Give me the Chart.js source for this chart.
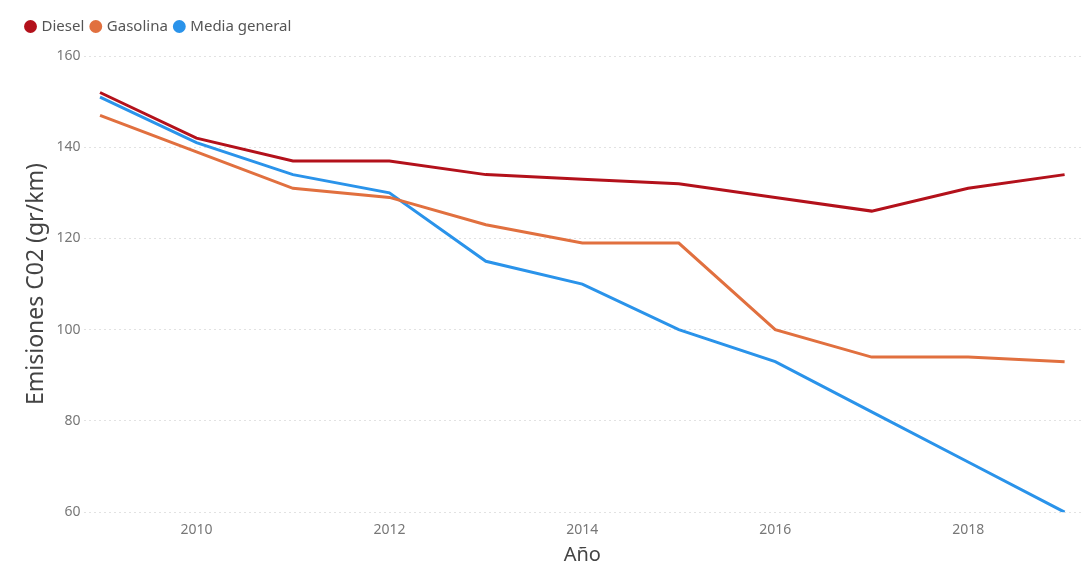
<!DOCTYPE html>
<html>
<head>
<meta charset="utf-8">
<script src="https://cdn.jsdelivr.net/npm/chart.js@4"></script>
<style>
  html, body { margin: 0; padding: 0; background: #fff; }
  #wrap { width: 1087px; height: 576px; }
</style>
</head>
<body>
<div id="wrap"><canvas id="co2Chart"></canvas></div>
<script>
// datos
const years    = [2009, 2010, 2011, 2012, 2013, 2014, 2015, 2016, 2017, 2018, 2019];
const diesel   = [152, 142, 137, 137, 134, 133, 132, 129, 126, 131, 134];
const gasolina = [147, 139, 131, 129, 123, 119, 119, 100, 94, 94, 93];
const media    = [151, 141, 134, 130, 115, 110, 100, 93, 82, 71, 60];
const xTicks   = [2010, 2012, 2014, 2016, 2018];
const yTicks   = [60, 80, 100, 120, 140, 160];

const pts = arr => arr.map((v, i) => ({ x: years[i], y: v }));

function line(label, data, color) {
  return {
    label, data: pts(data),
    borderColor: color, backgroundColor: color,
    borderWidth: 3, pointRadius: 0, tension: 0,
  };
}

// un poco mas de aire bajo la leyenda
const legendGap = {
  id: 'legendGap',
  beforeInit(chart) {
    const fit = chart.legend.fit;
    chart.legend.fit = function () { fit.bind(chart.legend)(); this.height += 12; };
  }
};

new Chart(document.getElementById('co2Chart'), {
  type: 'line',
  data: {
    datasets: [
      line('Diesel', diesel, '#b3111b'),
      line('Gasolina', gasolina, '#e1703f'),
      line('Media general', media, '#2a93ea'),
    ]
  },
  plugins: [legendGap],
  options: {
    responsive: true, maintainAspectRatio: false, animation: false,
    layout: { padding: { left: 19, right: 6, top: 11, bottom: 9 } },
    plugins: {
      legend: {
        align: 'start',
        labels: {
          usePointStyle: true, pointStyle: 'circle', boxWidth: 7, boxHeight: 7,
          padding: 8, color: '#555', font: { family: 'Noto Sans', size: 15 }
        }
      },
      tooltip: { enabled: false }
    },
    scales: {
      x: {
        type: 'linear', min: 2008.83, max: 2019.17,
        afterBuildTicks: s => { s.ticks = xTicks.map(v => ({ value: v })); },
        ticks: { color: '#777', padding: 1, font: { family: 'Noto Sans', size: 14 }, callback: v => String(v) },
        grid: { display: false },
        border: { display: false },
        title: { display: true, text: 'Año', color: '#444', font: { family: 'Noto Sans', size: 20 }, padding: { top: 4, bottom: 0 } }
      },
      y: {
        min: 60, max: 160,
        afterBuildTicks: s => { s.ticks = yTicks.map(v => ({ value: v })); },
        ticks: { color: '#777', font: { family: 'Noto Sans', size: 14 }, padding: 3 },
        grid: { color: '#e2e2e2', lineWidth: 1, drawTicks: false },
        border: { display: false, dash: [2, 3] },
        title: { display: true, text: 'Emisiones C02 (gr/km)', color: '#444', font: { family: 'Noto Sans', size: 23 }, padding: { top: 4, bottom: 3 } }
      }
    }
  }
});
</script>
</body>
</html>
